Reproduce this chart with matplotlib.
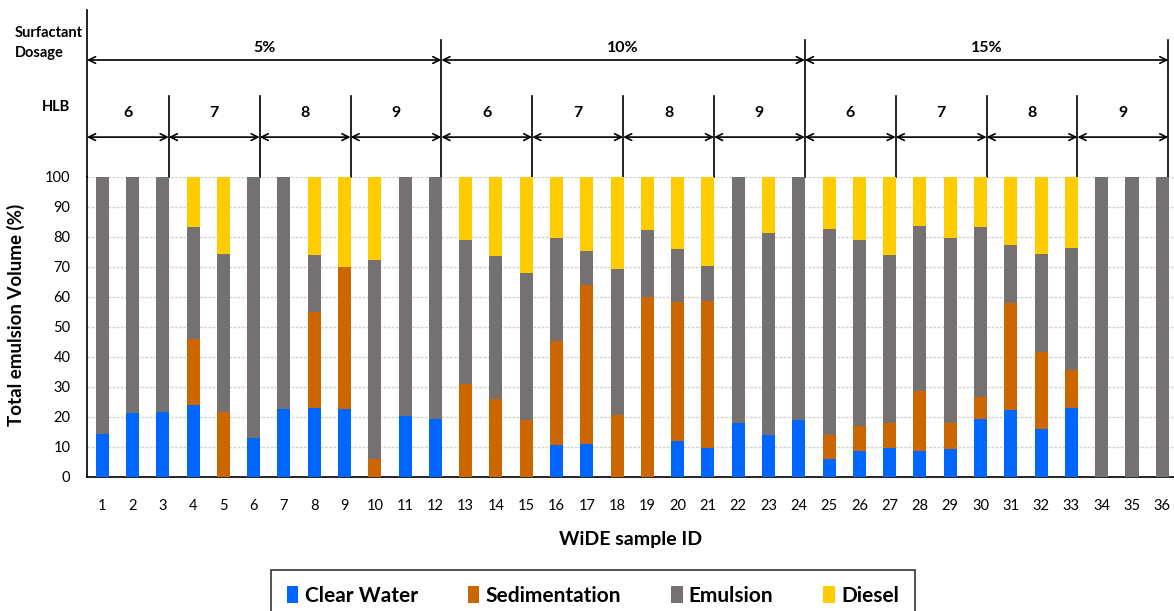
import numpy as np
import matplotlib
matplotlib.use('Agg')
import matplotlib.pyplot as plt
import matplotlib.transforms as mtransforms

plt.rcParams['font.family'] = ['Lato', 'DejaVu Sans']

# sample ids and the four phases (% of total volume)
sample_id = np.arange(1, 37)
clear_water = [14.5, 21.2, 21.7, 24.0, 0, 12.9, 22.7, 23.1, 22.7, 0, 20.2, 19.3,
               0, 0, 0, 10.6, 11.1, 0, 0, 12.0, 9.7, 18.0, 13.9, 18.9,
               5.9, 8.8, 9.7, 8.8, 9.2, 19.3, 22.2, 16.1, 23.1, 0, 0, 0]
sedimentation = [0, 0, 0, 22.1, 21.7, 0, 0, 31.9, 47.2, 5.9, 0, 0,
                 31.0, 25.9, 18.9, 34.7, 52.8, 20.7, 60.1, 46.2, 49.1, 0, 0, 0,
                 8.0, 8.3, 8.3, 19.9, 8.8, 7.5, 35.7, 25.5, 12.6, 0, 0, 0]
emulsion = [85.5, 78.8, 78.3, 37.1, 52.7, 87.1, 77.3, 19.0, 0, 66.3, 79.8, 80.7,
            48.1, 47.7, 49.1, 34.3, 11.5, 48.6, 22.2, 17.7, 11.5, 82.0, 67.5, 81.1,
            68.9, 62.0, 56.0, 55.0, 61.6, 56.4, 19.3, 32.8, 40.6, 100, 100, 100]
diesel = [0, 0, 0, 16.8, 25.6, 0, 0, 26.0, 30.1, 27.8, 0, 0,
          20.9, 26.4, 32.0, 20.4, 24.6, 30.7, 17.7, 24.1, 29.7, 0, 18.6, 0,
          17.2, 20.9, 26.0, 16.3, 20.4, 16.8, 22.8, 25.6, 23.7, 0, 0, 0]

dosages = ['5%', '10%', '15%']
hlb_values = ['6', '7', '8', '9']

series = [('Clear Water', clear_water, '#0066FF'),
          ('Sedimentation', sedimentation, '#CC6600'),
          ('Emulsion', emulsion, '#767171'),
          ('Diesel', diesel, '#FFCC00')]

fig = plt.figure(figsize=(11.74, 6.11), dpi=100)
ax = fig.add_axes([87 / 1174, 1 - 477 / 611, 1088 / 1174, 300 / 611])

bottom = np.zeros(len(sample_id))
for name, vals, col in series:
    vals = np.array(vals, dtype=float)
    ax.bar(sample_id, vals, width=0.43, bottom=bottom, color=col, label=name, zorder=3)
    bottom += vals

ax.set_xlim(0.5, 36.42)
ax.set_ylim(0, 100)
ax.set_yticks(np.arange(0, 101, 10))
ax.set_xticks(sample_id)
ax.tick_params(axis='x', length=0, pad=16, labelsize=10.5)
ax.tick_params(axis='y', length=0, pad=12, labelsize=10.5)
ax.grid(axis='y', color='#d4d4d4', linestyle=(0, (2, 1)), linewidth=1, zorder=0)
for s in ['top', 'right']:
    ax.spines[s].set_visible(False)
ax.spines['left'].set_linewidth(1.2)
ax.spines['bottom'].set_linewidth(1.2)

ax.set_xlabel('WiDE sample ID', fontsize=14, fontweight='bold', labelpad=13)
ax.set_ylabel('Total emulsion Volume (%)', fontsize=13.5, fontweight='bold')
ax.yaxis.set_label_coords(-0.057, 0.54)

# group brackets above the plot (x in data, y in axes fraction)
trans = mtransforms.blended_transform_factory(ax.transData, ax.transAxes)
edges = [0.5] + [3.2 + 3 * k for k in range(12)]
arrow_kw = dict(arrowstyle='<->', color='black', lw=1.2, shrinkA=0, shrinkB=0,
                mutation_scale=12)

for i, e in enumerate(edges):
    if i == 0:
        top = 1.557
    elif i % 4 == 0:
        top = 1.457
    else:
        top = 1.27
    ax.plot([e, e], [1.0, top], color='black', lw=1.2, transform=trans, clip_on=False)

for d, lab in enumerate(dosages):
    x0, x1 = edges[4 * d], edges[4 * d + 4]
    ax.annotate('', xy=(x1, 1.39), xytext=(x0, 1.39), xycoords=trans,
                textcoords=trans, arrowprops=arrow_kw)
    ax.text((x0 + x1) / 2, 1.43, lab, transform=trans, ha='center', va='center',
            fontsize=11.5, fontweight='bold')
    for h, hl in enumerate(hlb_values):
        a, b = edges[4 * d + h], edges[4 * d + h + 1]
        ax.annotate('', xy=(b, 1.133), xytext=(a, 1.133), xycoords=trans,
                    textcoords=trans, arrowprops=arrow_kw)
        ax.text((a + b) / 2, 1.213, hl, transform=trans, ha='center', va='center',
                fontsize=11.5, fontweight='bold')

fig.text(15 / 1174, 1 - 43 / 611, 'Surfactant\nDosage', ha='left', va='center',
         fontsize=10.5, fontweight='bold', linespacing=1.5)
fig.text(56 / 1174, 1 - 107 / 611, 'HLB', ha='center', va='center',
         fontsize=10.5, fontweight='bold')

leg = fig.legend(loc='upper center', bbox_to_anchor=(593 / 1174, 1 - 570 / 611),
                 ncol=4, prop={'size': 15, 'weight': 'bold'}, frameon=True,
                 fancybox=False, edgecolor='black', handlelength=0.55,
                 handleheight=0.85, handletextpad=0.3, columnspacing=2.4,
                 borderpad=0.75, borderaxespad=0)
leg.get_frame().set_linewidth(1.2)

fig.savefig('out.png', dpi=100)
